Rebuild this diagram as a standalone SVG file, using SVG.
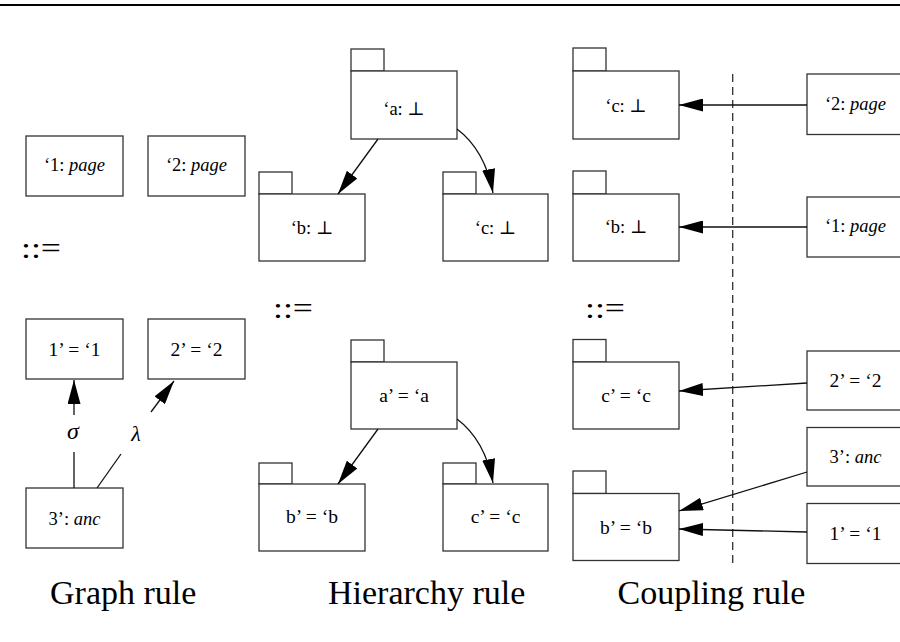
<svg xmlns="http://www.w3.org/2000/svg" width="900" height="642" viewBox="0 0 900 642">
<defs>
<marker id="ah" markerUnits="userSpaceOnUse" markerWidth="24" markerHeight="13" refX="24" refY="6.5" orient="auto">
<path d="M0,0 L24,6.5 L0,13 z" fill="#000"/>
</marker>
<style>
.b{fill:#fff;stroke:#333;stroke-width:1.3}
text{font-family:'Liberation Serif','Times New Roman',Times,'DejaVu Serif',serif}
.t{font-size:18.5px;fill:#000;text-anchor:middle}
.e{font-size:19.5px}
.i{font-style:italic}
.c{stroke:#111;stroke-width:1.3;fill:none}
.h{font-size:34px;fill:#000}
.eq{font-size:30px;fill:#000}
</style>
</defs>
<rect width="900" height="642" fill="#fff"/>
<line x1="0" y1="5" x2="900" y2="5" stroke="#000" stroke-width="2.2"/>

<!-- Graph rule -->
<g id="g-p1"><rect class="b" x="26" y="136" width="97" height="60"/><text class="t" x="74.5" y="171">‘1: <tspan class="i">page</tspan></text></g>
<g id="g-p2"><rect class="b" x="148" y="136" width="97" height="60"/><text class="t" x="196.5" y="171">‘2: <tspan class="i">page</tspan></text></g>
<text class="eq" x="21" y="258" textLength="40" lengthAdjust="spacingAndGlyphs">::=</text>
<g id="g-n1"><rect class="b" x="26" y="319" width="97" height="60"/><text class="t e" x="74.5" y="356">1’ = ‘1</text></g>
<g id="g-n2"><rect class="b" x="148" y="319" width="97" height="60"/><text class="t e" x="196.5" y="356">2’ = ‘2</text></g>
<g id="g-n3"><rect class="b" x="26" y="488" width="97" height="60"/><text class="t" x="74.5" y="525">3’: <tspan class="i">anc</tspan></text></g>

<!-- Hierarchy rule -->
<g id="h-a"><rect class="b" x="351" y="49" width="33" height="22"/><rect class="b" x="351" y="71" width="106" height="68"/><text class="t" x="404" y="115">‘a: ⊥</text></g>
<g id="h-b"><rect class="b" x="259" y="172" width="33" height="22"/><rect class="b" x="259" y="194" width="106" height="67"/><text class="t" x="312" y="234">‘b: ⊥</text></g>
<g id="h-c"><rect class="b" x="443" y="172" width="33" height="22"/><rect class="b" x="443" y="194" width="105" height="67"/><text class="t" x="495.5" y="234">‘c: ⊥</text></g>
<text class="eq" x="273" y="318" textLength="40" lengthAdjust="spacingAndGlyphs">::=</text>
<g id="h-a2"><rect class="b" x="351" y="340" width="33" height="22"/><rect class="b" x="351" y="362" width="106" height="67"/><text class="t e" x="404" y="402">a’ = ‘a</text></g>
<g id="h-b2"><rect class="b" x="259" y="463" width="33" height="21"/><rect class="b" x="259" y="484" width="106" height="67"/><text class="t e" x="312" y="523">b’ = ‘b</text></g>
<g id="h-c2"><rect class="b" x="443" y="463" width="33" height="21"/><rect class="b" x="443" y="484" width="105" height="67"/><text class="t e" x="495.5" y="523">c’ = ‘c</text></g>

<!-- Coupling rule -->
<g id="c-c"><rect class="b" x="573" y="48" width="33" height="23"/><rect class="b" x="573" y="71" width="106" height="68"/><text class="t" x="626" y="112">‘c: ⊥</text></g>
<g id="c-b"><rect class="b" x="573" y="171" width="33" height="23"/><rect class="b" x="573" y="194" width="106" height="67"/><text class="t" x="626" y="233">‘b: ⊥</text></g>
<g id="c-p2"><rect class="b" x="807" y="74" width="97" height="60.5"/><text class="t" x="855.5" y="110">‘2: <tspan class="i">page</tspan></text></g>
<g id="c-p1"><rect class="b" x="807" y="197" width="97" height="60"/><text class="t" x="855.5" y="232">‘1: <tspan class="i">page</tspan></text></g>
<text class="eq" x="585" y="318" textLength="40" lengthAdjust="spacingAndGlyphs">::=</text>
<g id="c-c2"><rect class="b" x="573" y="339.5" width="33" height="22.5"/><rect class="b" x="573" y="362" width="106" height="67"/><text class="t e" x="626" y="402">c’ = ‘c</text></g>
<g id="c-b2"><rect class="b" x="573" y="471" width="33" height="22.5"/><rect class="b" x="573" y="493.5" width="106" height="67"/><text class="t e" x="626" y="534">b’ = ‘b</text></g>
<g id="c-n2"><rect class="b" x="807" y="351" width="97" height="59"/><text class="t e" x="855.5" y="387">2’ = ‘2</text></g>
<g id="c-n3"><rect class="b" x="807" y="427.5" width="97" height="58.5"/><text class="t" x="855.5" y="463">3’: <tspan class="i">anc</tspan></text></g>
<g id="c-n1"><rect class="b" x="807" y="503.5" width="97" height="60"/><text class="t e" x="855.5" y="540">1’ = ‘1</text></g>

<!-- Connectors -->
<g id="connectors">
<line class="c" x1="74" y1="488" x2="74" y2="452"/>
<line class="c" x1="74" y1="415" x2="74" y2="380" marker-end="url(#ah)"/>
<line class="c" x1="97" y1="488" x2="121" y2="454"/>
<line class="c" x1="151" y1="412" x2="174" y2="381" marker-end="url(#ah)"/>
<text class="t i" x="73" y="439" style="font-size:24px">σ</text>
<text class="t i" x="136" y="441" style="font-size:22px">λ</text>

<line class="c" x1="378" y1="139" x2="338" y2="194" marker-end="url(#ah)"/>
<path class="c" d="M457,129 Q485,150 493,193" marker-end="url(#ah)"/>
<line class="c" x1="378" y1="429" x2="338" y2="484" marker-end="url(#ah)"/>
<path class="c" d="M457,419 Q485,440 493,483" marker-end="url(#ah)"/>

<line x1="732.7" y1="74" x2="732.7" y2="564" stroke="#333" stroke-width="1.3" stroke-dasharray="8 5"/>
<line class="c" x1="807" y1="105" x2="679" y2="105" marker-end="url(#ah)"/>
<line class="c" x1="807" y1="227" x2="679" y2="227" marker-end="url(#ah)"/>
<line class="c" x1="807" y1="383" x2="679" y2="391" marker-end="url(#ah)"/>
<line class="c" x1="807" y1="472" x2="679" y2="511" marker-end="url(#ah)"/>
<line class="c" x1="807" y1="532" x2="679" y2="529" marker-end="url(#ah)"/>
</g>

<text class="h" x="50" y="604">Graph rule</text>
<text class="h" x="328" y="604">Hierarchy rule</text>
<text class="h" x="617.5" y="604">Coupling rule</text>
</svg>
